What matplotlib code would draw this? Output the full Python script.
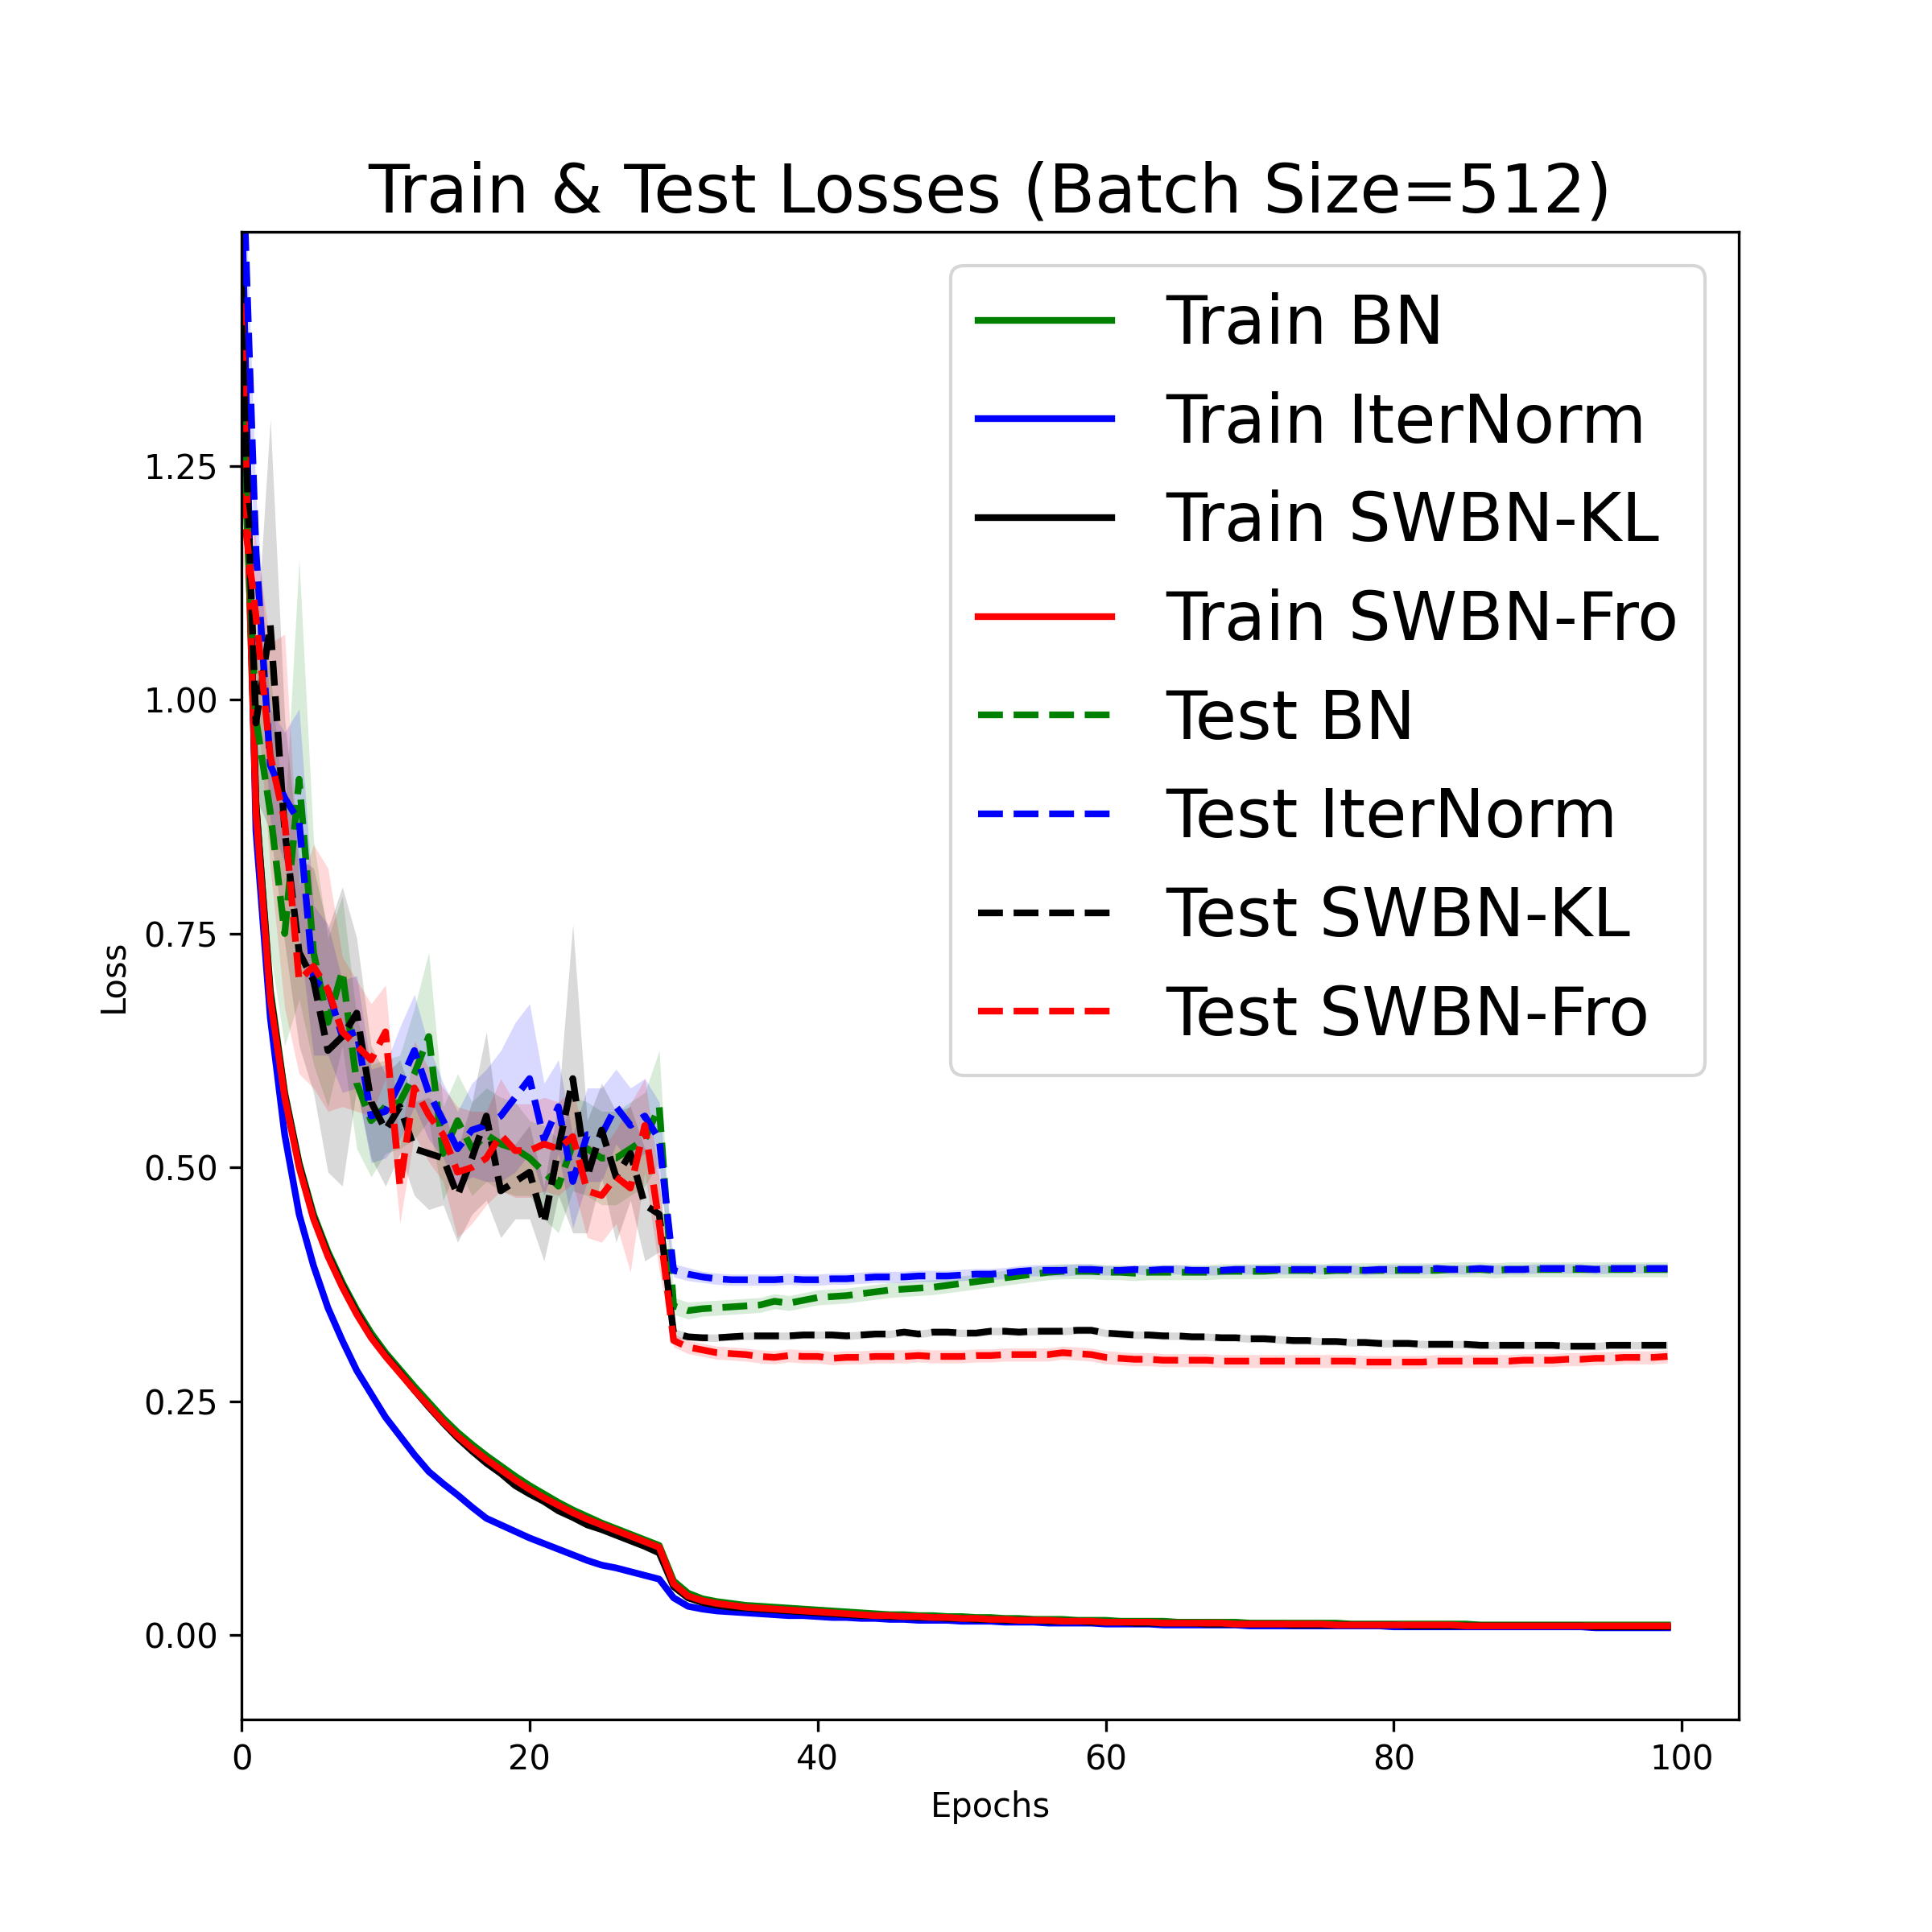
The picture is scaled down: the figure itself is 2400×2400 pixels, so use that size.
import numpy as np
import matplotlib
matplotlib.use('agg')
import matplotlib.pyplot as plt

epochs = list(range(100))

# train losses (mean over runs)
train_bn = [1.40, 0.89, 0.69, 0.58, 0.505, 0.45, 0.41, 0.377, 0.348, 0.323,
            0.302, 0.284, 0.266, 0.249, 0.232, 0.217, 0.204, 0.192, 0.181, 0.170,
            0.160, 0.151, 0.142, 0.134, 0.127, 0.120, 0.114, 0.108, 0.102, 0.096,
            0.058, 0.045, 0.039, 0.036, 0.034, 0.032, 0.031, 0.030, 0.029, 0.028,
            0.027, 0.026, 0.025, 0.024, 0.023, 0.022, 0.022, 0.021, 0.021, 0.020,
            0.020, 0.019, 0.019, 0.018, 0.018, 0.017, 0.017, 0.017, 0.016, 0.016,
            0.016, 0.015, 0.015, 0.015, 0.015, 0.014, 0.014, 0.014, 0.014, 0.014,
            0.013, 0.013, 0.013, 0.013, 0.013, 0.013, 0.013, 0.012, 0.012, 0.012,
            0.012, 0.012, 0.012, 0.012, 0.012, 0.012, 0.011, 0.011, 0.011, 0.011,
            0.011, 0.011, 0.011, 0.011, 0.011, 0.011, 0.011, 0.011, 0.011, 0.011]
train_iter = [1.55, 0.86, 0.66, 0.535, 0.45, 0.395, 0.35, 0.315, 0.283, 0.258,
              0.233, 0.213, 0.193, 0.175, 0.162, 0.150, 0.137, 0.125, 0.118, 0.111,
              0.104, 0.098, 0.092, 0.086, 0.080, 0.075, 0.072, 0.068, 0.064, 0.060,
              0.040, 0.031, 0.028, 0.026, 0.025, 0.024, 0.023, 0.022, 0.021, 0.021,
              0.020, 0.019, 0.019, 0.018, 0.018, 0.017, 0.017, 0.016, 0.016, 0.016,
              0.015, 0.015, 0.015, 0.014, 0.014, 0.014, 0.013, 0.013, 0.013, 0.013,
              0.012, 0.012, 0.012, 0.012, 0.011, 0.011, 0.011, 0.011, 0.011, 0.011,
              0.010, 0.010, 0.010, 0.010, 0.010, 0.010, 0.010, 0.010, 0.010, 0.010,
              0.009, 0.009, 0.009, 0.009, 0.009, 0.009, 0.009, 0.009, 0.009, 0.009,
              0.009, 0.009, 0.009, 0.009, 0.008, 0.008, 0.008, 0.008, 0.008, 0.008]
train_kl = [1.44, 0.89, 0.685, 0.578, 0.503, 0.447, 0.407, 0.374, 0.345, 0.319,
            0.299, 0.281, 0.262, 0.244, 0.227, 0.211, 0.197, 0.184, 0.173, 0.160,
            0.151, 0.143, 0.133, 0.126, 0.118, 0.113, 0.107, 0.101, 0.095, 0.088,
            0.052, 0.040, 0.035, 0.032, 0.030, 0.029, 0.028, 0.027, 0.026, 0.025,
            0.024, 0.023, 0.022, 0.021, 0.021, 0.020, 0.020, 0.019, 0.019, 0.018,
            0.018, 0.017, 0.017, 0.016, 0.016, 0.016, 0.015, 0.015, 0.015, 0.014,
            0.014, 0.014, 0.013, 0.013, 0.013, 0.013, 0.013, 0.012, 0.012, 0.012,
            0.012, 0.012, 0.012, 0.011, 0.011, 0.011, 0.011, 0.011, 0.011, 0.011,
            0.011, 0.010, 0.010, 0.010, 0.010, 0.010, 0.010, 0.010, 0.010, 0.010,
            0.010, 0.010, 0.010, 0.010, 0.009, 0.009, 0.009, 0.009, 0.009, 0.009]
train_fro = [1.42, 0.88, 0.68, 0.575, 0.50, 0.445, 0.405, 0.372, 0.343, 0.318,
             0.298, 0.280, 0.262, 0.245, 0.228, 0.213, 0.200, 0.188, 0.177, 0.166,
             0.156, 0.147, 0.139, 0.131, 0.124, 0.118, 0.112, 0.106, 0.100, 0.094,
             0.055, 0.042, 0.037, 0.034, 0.032, 0.030, 0.029, 0.028, 0.027, 0.026,
             0.025, 0.024, 0.023, 0.022, 0.021, 0.021, 0.020, 0.020, 0.019, 0.019,
             0.018, 0.018, 0.017, 0.017, 0.016, 0.016, 0.016, 0.015, 0.015, 0.015,
             0.014, 0.014, 0.014, 0.014, 0.013, 0.013, 0.013, 0.013, 0.013, 0.012,
             0.012, 0.012, 0.012, 0.012, 0.012, 0.012, 0.011, 0.011, 0.011, 0.011,
             0.011, 0.011, 0.011, 0.011, 0.011, 0.010, 0.010, 0.010, 0.010, 0.010,
             0.010, 0.010, 0.010, 0.010, 0.010, 0.010, 0.010, 0.010, 0.010, 0.010]

# test losses (mean over runs)
test_bn = [1.32, 0.98, 0.88, 0.75, 0.915, 0.73, 0.655, 0.71, 0.59, 0.55,
           0.565, 0.57, 0.60, 0.64, 0.515, 0.55, 0.52, 0.535, 0.525, 0.52,
           0.51, 0.495, 0.48, 0.525, 0.52, 0.51, 0.51, 0.52, 0.53, 0.565,
           0.352, 0.347, 0.349, 0.350, 0.351, 0.352, 0.353, 0.357, 0.355, 0.358,
           0.361, 0.362, 0.363, 0.365, 0.367, 0.369, 0.370, 0.371, 0.372, 0.374,
           0.376, 0.378, 0.380, 0.382, 0.384, 0.386, 0.388, 0.389, 0.389, 0.389,
           0.388, 0.388, 0.387, 0.388, 0.388, 0.388, 0.388, 0.388, 0.389, 0.389,
           0.389, 0.389, 0.390, 0.390, 0.390, 0.389, 0.390, 0.390, 0.390, 0.390,
           0.390, 0.390, 0.390, 0.390, 0.391, 0.391, 0.391, 0.390, 0.391, 0.391,
           0.391, 0.391, 0.391, 0.391, 0.391, 0.391, 0.391, 0.391, 0.391, 0.391]
test_iter = [1.62, 1.16, 0.93, 0.895, 0.87, 0.70, 0.69, 0.64, 0.645, 0.555,
             0.56, 0.59, 0.625, 0.58, 0.55, 0.52, 0.54, 0.545, 0.555, 0.575,
             0.595, 0.53, 0.565, 0.485, 0.535, 0.535, 0.565, 0.545, 0.555, 0.53,
             0.390, 0.386, 0.383, 0.381, 0.380, 0.380, 0.380, 0.380, 0.381, 0.380,
             0.380, 0.381, 0.381, 0.382, 0.383, 0.383, 0.383, 0.384, 0.384, 0.384,
             0.385, 0.386, 0.386, 0.387, 0.389, 0.390, 0.390, 0.390, 0.391, 0.391,
             0.390, 0.390, 0.391, 0.390, 0.391, 0.391, 0.390, 0.390, 0.390, 0.391,
             0.391, 0.391, 0.391, 0.391, 0.391, 0.391, 0.391, 0.391, 0.390, 0.391,
             0.391, 0.391, 0.391, 0.392, 0.391, 0.391, 0.392, 0.391, 0.391, 0.391,
             0.392, 0.392, 0.392, 0.392, 0.391, 0.392, 0.392, 0.392, 0.392, 0.392]
test_kl = [1.40, 0.975, 1.08, 0.86, 0.73, 0.70, 0.625, 0.64, 0.665, 0.57,
           0.54, 0.565, 0.52, 0.515, 0.51, 0.47, 0.51, 0.555, 0.475, 0.485,
           0.495, 0.44, 0.52, 0.595, 0.49, 0.54, 0.49, 0.515, 0.46, 0.45,
           0.323, 0.319, 0.318, 0.318, 0.319, 0.320, 0.320, 0.320, 0.320, 0.321,
           0.321, 0.321, 0.320, 0.321, 0.322, 0.322, 0.324, 0.322, 0.324, 0.324,
           0.323, 0.323, 0.325, 0.325, 0.324, 0.325, 0.325, 0.325, 0.326, 0.326,
           0.323, 0.322, 0.321, 0.321, 0.320, 0.320, 0.319, 0.319, 0.318, 0.318,
           0.317, 0.317, 0.316, 0.315, 0.315, 0.314, 0.314, 0.313, 0.313, 0.312,
           0.312, 0.312, 0.311, 0.311, 0.311, 0.311, 0.310, 0.310, 0.310, 0.310,
           0.310, 0.310, 0.309, 0.309, 0.309, 0.310, 0.310, 0.310, 0.310, 0.310]
test_fro = [1.22, 1.09, 0.94, 0.87, 0.70, 0.715, 0.69, 0.645, 0.63, 0.615,
            0.645, 0.48, 0.585, 0.556, 0.535, 0.495, 0.50, 0.51, 0.535, 0.518,
            0.518, 0.525, 0.52, 0.533, 0.475, 0.47, 0.49, 0.478, 0.545, 0.44,
            0.315, 0.308, 0.305, 0.302, 0.301, 0.300, 0.298, 0.297, 0.299, 0.298,
            0.298, 0.296, 0.297, 0.297, 0.298, 0.298, 0.298, 0.299, 0.298, 0.298,
            0.298, 0.299, 0.299, 0.300, 0.300, 0.300, 0.300, 0.302, 0.301, 0.300,
            0.297, 0.296, 0.295, 0.295, 0.294, 0.294, 0.294, 0.294, 0.293, 0.293,
            0.293, 0.293, 0.293, 0.293, 0.293, 0.293, 0.293, 0.293, 0.292, 0.292,
            0.292, 0.292, 0.292, 0.293, 0.293, 0.293, 0.293, 0.293, 0.293, 0.294,
            0.294, 0.294, 0.295, 0.295, 0.296, 0.296, 0.297, 0.297, 0.297, 0.298]

# spread of the test losses over runs
std_bn = [0.05, 0.10, 0.15, 0.12, 0.235, 0.12, 0.09, 0.08, 0.07, 0.06,
          0.05, 0.05, 0.07, 0.09, 0.05, 0.05, 0.05, 0.05, 0.05, 0.05,
          0.04, 0.05, 0.05, 0.05, 0.05, 0.05, 0.05, 0.05, 0.05, 0.06,
          0.009, 0.009, 0.008, 0.008, 0.008, 0.008, 0.008, 0.008, 0.008, 0.008,
          0.008, 0.008, 0.008, 0.008, 0.008, 0.008, 0.008, 0.008, 0.008, 0.008,
          0.008, 0.008, 0.008, 0.008, 0.008, 0.008, 0.008, 0.008, 0.008, 0.008,
          0.008, 0.008, 0.008, 0.008, 0.008, 0.008, 0.008, 0.008, 0.008, 0.008,
          0.008, 0.008, 0.008, 0.008, 0.008, 0.008, 0.008, 0.008, 0.008, 0.008,
          0.008, 0.008, 0.008, 0.008, 0.008, 0.008, 0.008, 0.008, 0.008, 0.008,
          0.008, 0.008, 0.008, 0.008, 0.008, 0.008, 0.008, 0.008, 0.008, 0.008]
std_iter = [0.05, 0.06, 0.06, 0.07, 0.12, 0.08, 0.07, 0.06, 0.06, 0.05,
            0.05, 0.06, 0.06, 0.05, 0.04, 0.04, 0.05, 0.06, 0.07, 0.08,
            0.08, 0.06, 0.05, 0.05, 0.05, 0.05, 0.04, 0.04, 0.04, 0.04,
            0.007, 0.007, 0.006, 0.006, 0.006, 0.006, 0.006, 0.006, 0.006, 0.006,
            0.006, 0.006, 0.006, 0.006, 0.006, 0.006, 0.006, 0.006, 0.006, 0.006,
            0.006, 0.006, 0.006, 0.006, 0.006, 0.006, 0.006, 0.006, 0.006, 0.006,
            0.005, 0.005, 0.005, 0.005, 0.005, 0.005, 0.005, 0.005, 0.005, 0.005,
            0.005, 0.005, 0.005, 0.005, 0.005, 0.005, 0.005, 0.005, 0.005, 0.005,
            0.005, 0.005, 0.005, 0.005, 0.005, 0.005, 0.005, 0.005, 0.005, 0.005,
            0.005, 0.005, 0.005, 0.005, 0.005, 0.005, 0.005, 0.005, 0.005, 0.005]
std_kl = [0.05, 0.08, 0.22, 0.12, 0.10, 0.12, 0.13, 0.16, 0.08, 0.06,
          0.06, 0.05, 0.05, 0.06, 0.05, 0.05, 0.06, 0.09, 0.05, 0.04,
          0.05, 0.04, 0.05, 0.165, 0.06, 0.05, 0.07, 0.05, 0.06, 0.04,
          0.005, 0.004, 0.004, 0.004, 0.004, 0.004, 0.004, 0.004, 0.004, 0.004,
          0.004, 0.004, 0.004, 0.004, 0.004, 0.004, 0.004, 0.004, 0.004, 0.004,
          0.004, 0.004, 0.004, 0.004, 0.004, 0.004, 0.004, 0.004, 0.004, 0.004,
          0.004, 0.004, 0.004, 0.004, 0.004, 0.004, 0.004, 0.004, 0.004, 0.004,
          0.004, 0.004, 0.004, 0.004, 0.004, 0.004, 0.004, 0.004, 0.004, 0.004,
          0.004, 0.004, 0.004, 0.004, 0.004, 0.004, 0.004, 0.004, 0.004, 0.004,
          0.004, 0.004, 0.004, 0.004, 0.004, 0.004, 0.004, 0.004, 0.004, 0.004]
std_fro = [0.06, 0.08, 0.12, 0.20, 0.10, 0.13, 0.13, 0.08, 0.07, 0.06,
           0.05, 0.04, 0.05, 0.05, 0.05, 0.07, 0.06, 0.05, 0.06, 0.05,
           0.05, 0.05, 0.05, 0.05, 0.05, 0.05, 0.05, 0.09, 0.05, 0.05,
           0.007, 0.007, 0.007, 0.007, 0.007, 0.007, 0.007, 0.007, 0.007, 0.007,
           0.007, 0.007, 0.007, 0.007, 0.007, 0.007, 0.007, 0.007, 0.007, 0.007,
           0.007, 0.007, 0.007, 0.007, 0.007, 0.007, 0.007, 0.007, 0.007, 0.007,
           0.007, 0.007, 0.007, 0.007, 0.007, 0.007, 0.007, 0.007, 0.007, 0.007,
           0.007, 0.007, 0.007, 0.007, 0.007, 0.007, 0.007, 0.007, 0.007, 0.007,
           0.007, 0.007, 0.007, 0.007, 0.007, 0.007, 0.007, 0.007, 0.007, 0.007,
           0.007, 0.007, 0.007, 0.007, 0.007, 0.007, 0.007, 0.007, 0.007, 0.007]

names = ['BN', 'IterNorm', 'SWBN-KL', 'SWBN-Fro']
colors = ['g', 'b', 'k', 'r']
yticks = [0.0, 0.25, 0.5, 0.75, 1.0, 1.25]


def plotLosses(outFile):
    trains = [train_bn, train_iter, train_kl, train_fro]
    tests = [test_bn, test_iter, test_kl, test_fro]
    stds = [std_bn, std_iter, std_kl, std_fro]

    fig = plt.figure(figsize=(8, 8))
    for tr, name, c in zip(trains, names, colors):
        plt.plot(epochs, tr, color=c, linewidth=2, label='Train ' + name)
    for te, sd, name, c in zip(tests, stds, names, colors):
        te = np.array(te)
        sd = np.array(sd)
        plt.plot(epochs, te, color=c, linestyle='--', linewidth=2, label='Test ' + name)
        plt.fill_between(epochs, te - sd, te + sd, color=c, alpha=0.15, linewidth=0)

    plt.xlim(left=0)
    plt.ylim(-0.09, 1.5)
    plt.yticks(yticks, ['%.2f' % t for t in yticks])
    plt.xlabel('Epochs')
    plt.ylabel('Loss')
    plt.title('Train & Test Losses (Batch Size=512)', fontsize=20)
    plt.legend(loc='upper right', fontsize=20)
    plt.savefig(outFile, dpi=300)
    plt.close(fig)


if __name__ == '__main__':
    plotLosses('out.png')
